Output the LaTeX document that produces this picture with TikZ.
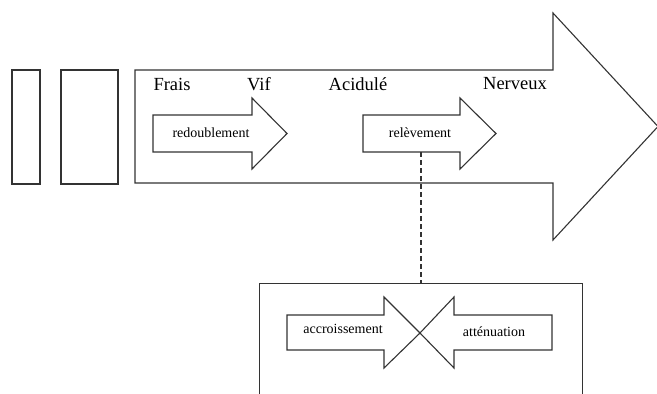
\documentclass[tikz,border=0pt]{standalone}
\usepackage{fontspec}
\setmainfont{Liberation Serif}
\begin{document}
\begin{tikzpicture}[x=1pt,y=-1pt,
  outl/.style={draw=black!80,line width=1.1pt,line join=miter},
  big/.style={font=\fontsize{18.5}{20}\selectfont,inner sep=0pt},
  small/.style={font=\fontsize{14}{16}\selectfont,inner sep=0pt}]
\useasboundingbox (0,0) rectangle (657,394);
% left rectangles
\draw[outl] (12,70) rectangle (40,184);
\draw[outl] (61,70) rectangle (118,184);
% big arrow
\draw[outl] (135,70) -- (553,70) -- (553,13) -- (658,126.5) -- (553,240) -- (553,183) -- (135,183) -- cycle;
% labels
\node[big] (frais) at (172,84) {Frais};
\node[big] (vif) at (259,84) {Vif};
\node[big] (acid) at (358,84) {Acidulé};
\node[big] (nerv) at (515,84) {Nerveux};
% redoublement arrow
\draw[outl,fill=white] (153,115) -- (252,115) -- (252,98) -- (287,133.5) -- (252,169) -- (252,152) -- (153,152) -- cycle;
\node[small] (redo) at (211,133) {redoublement};
% relevement arrow
\draw[outl,fill=white] (363,115) -- (460,115) -- (460,98) -- (496,133.5) -- (460,169) -- (460,152) -- (363,152) -- cycle;
\node[small] (rele) at (420,133) {relèvement};
\coordinate (releb) at (421,152);
% bottom box
\node[outl,draw,minimum width=323pt,minimum height=140pt,inner sep=0pt,anchor=north west] (box) at (259,283) {};
\draw[outl,line width=1.3pt,dash pattern=on 5pt off 3pt] (releb) -- (releb |- box.north);
% crossing arrows
\draw[outl] (287,315) -- (384,315) -- (384,297) -- (420,333) -- (384,368) -- (384,350) -- (287,350) -- cycle;
\draw[outl] (552,315) -- (454,315) -- (454,297) -- (420,333) -- (454,368) -- (454,350) -- (552,350) -- cycle;
\node[small] (accr) at (343,329) {accroissement};
\node[small] (atte) at (494,332) {atténuation};
\end{tikzpicture}
\end{document}
